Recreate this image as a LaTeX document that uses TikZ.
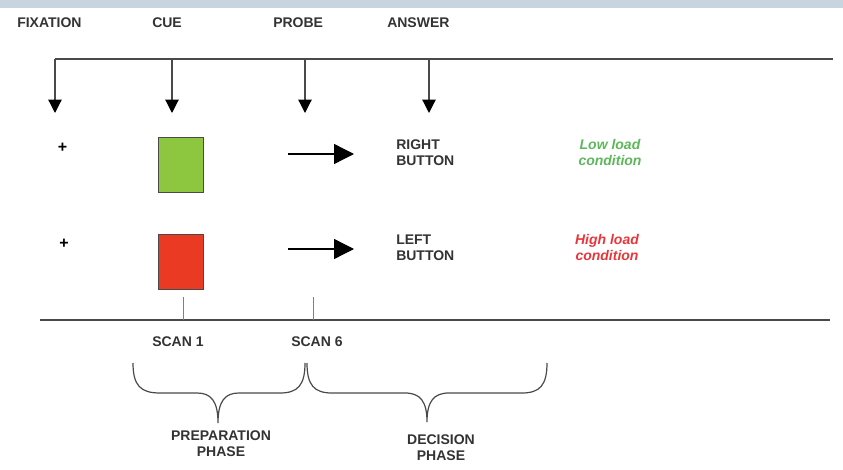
\documentclass[tikz,border=0pt]{standalone}
\usepackage{fontspec}
\setmainfont{Liberation Sans}
\usetikzlibrary{arrows.meta}

\definecolor{bandgray}{HTML}{C9D5DE}
\definecolor{inkgray}{HTML}{333333}
\definecolor{linegray}{HTML}{4A4A4A}
\definecolor{cuegreen}{HTML}{8DC63F}
\definecolor{cuered}{HTML}{EA3A24}
\definecolor{lowgreen}{HTML}{5DB85A}
\definecolor{highred}{HTML}{E8363C}

\begin{document}
\begin{tikzpicture}[x=0.75pt,y=0.75pt,yscale=-1,xscale=1,
  lbl/.style={anchor=north west,inner sep=0.75pt,align=left,text=inkgray,
    font=\fontsize{10.5}{12}\selectfont\bfseries},
  condlbl/.style={inner sep=0.75pt,align=center,
    font=\fontsize{10.5}{12}\selectfont\bfseries\itshape},
  phaselbl/.style={inner sep=0.75pt,align=center,text=inkgray,
    font=\fontsize{10.5}{12}\selectfont\bfseries},
  cuebox/.style={draw=linegray,line width=0.75pt,minimum width=33.75pt,minimum height=41.25pt,inner sep=0pt},
  tlarrow/.style={draw=linegray,line width=0.9pt,-{Triangle[length=10pt,width=10pt,color=black,fill=black]}},
  resparrow/.style={draw=black,line width=1pt,-{Triangle[length=15pt,width=15pt]}},
  fixcross/.style={inner sep=0pt,font=\fontsize{12}{12}\selectfont\bfseries},
  bracepath/.style={draw=linegray,line width=0.9pt}]
\useasboundingbox (0,0) rectangle (843,470);

%Shape: Rectangle [top band]
\fill[bandgray] (0,0) rectangle (843,8);

% Text Node
\node (fixLbl) [lbl] at (16,16.5) {FIXATION};
% Text Node
\node (cueLbl) [lbl] at (151,16.5) {CUE};
% Text Node
\node (probeLbl) [lbl] at (272,16.5) {PROBE};
% Text Node
\node (answerLbl) [lbl] at (386,16.5) {ANSWER};

%Straight Lines [time line]
\coordinate (tlStart) at (55,59);
\coordinate (tlEnd) at (833,59);
\draw[linegray,line width=0.9pt] (tlStart) -- (tlEnd);

\coordinate (fixTop) at (55,59);    \coordinate (fixTip) at (55,113);
\coordinate (cueTop) at (172,59);   \coordinate (cueTip) at (172,113);
\coordinate (probeTop) at (305,59); \coordinate (probeTip) at (305,113);
\coordinate (ansTop) at (429,59);   \coordinate (ansTip) at (429,113);
\draw[tlarrow] (fixTop) -- (fixTip);
\draw[tlarrow] (cueTop) -- (cueTip);
\draw[tlarrow] (probeTop) -- (probeTip);
\draw[tlarrow] (ansTop) -- (ansTip);

% Text Node [fixation crosses]
\node (fixA) [fixcross] at (62.5,148) {+};
\node (fixB) [fixcross] at (64,244) {+};

%Shape: Rectangle [cues]
\node (cueG) [cuebox,fill=cuegreen] at (180.5,165.5) {};
\node (cueR) [cuebox,fill=cuered] at (180.5,262) {};

%Straight Lines [probe arrows]
\coordinate (probeA0) at (288,154); \coordinate (probeA1) at (354,154);
\coordinate (probeB0) at (288,249); \coordinate (probeB1) at (354,249);
\draw[resparrow] (probeA0) -- (probeA1);
\draw[resparrow] (probeB0) -- (probeB1);

% Text Node
\node (rightBtn) [lbl] at (395,138) {RIGHT\\BUTTON};
% Text Node
\node (leftBtn) [lbl] at (395,234) {LEFT\\BUTTON};
% Text Node
\node (lowCond) [condlbl,text=lowgreen] at (610,153) {Low load\\condition};
% Text Node
\node (highCond) [condlbl,text=highred] at (607,248) {High load\\condition};

%Straight Lines [scan line]
\coordinate (scanStart) at (40,320);
\coordinate (scanEnd) at (830,320);
\draw[linegray,line width=0.9pt] (scanStart) -- (scanEnd);
\coordinate (scanOneTop) at (183,297); \coordinate (scanOneBot) at (183,320);
\coordinate (scanSixTop) at (313,297); \coordinate (scanSixBot) at (313,320);
\draw[gray,line width=0.6pt] (scanOneTop) -- (scanOneBot);
\draw[gray,line width=0.6pt] (scanSixTop) -- (scanSixBot);

% Text Node
\node (scanOne) [lbl] at (151,335) {SCAN 1};
% Text Node
\node (scanSix) [lbl] at (290,335) {SCAN 6};

%Curve Lines [preparation brace]
\draw[bracepath] (133,363) .. controls (133,386) and (141,393) .. (160,393)
  -- (197,393) .. controls (211,393) and (218,401) .. (218,423)
  .. controls (218,401) and (225,393) .. (239,393)
  -- (280,393) .. controls (298,393) and (305,385) .. (305,363);
%Curve Lines [decision brace]
\draw[bracepath] (307,363) .. controls (307,385) and (314,393) .. (332,393)
  -- (405,393) .. controls (420,393) and (427,401) .. (427,422)
  .. controls (427,401) and (434,393) .. (449,393)
  -- (522,393) .. controls (540,393) and (547,385) .. (547,363);

% Text Node
\node (prepLbl) [phaselbl] at (221,443.5) {PREPARATION\\PHASE};
% Text Node
\node (decLbl) [phaselbl] at (441,448) {DECISION\\PHASE};
\end{tikzpicture}
\end{document}
